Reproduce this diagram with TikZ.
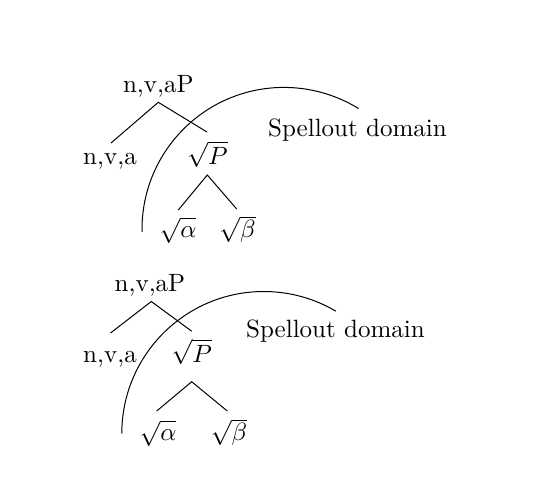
\documentclass[tikz,border=0pt]{standalone}
\usepackage{amsmath,amssymb}
\usepackage{tikz}

\begin{document}
\begin{tikzpicture}[
    x=0.4pt, y=-0.4pt,
    cat/.style={anchor=base, inner sep=0pt},
    branch/.style={line width=0.4pt},
    spellarc/.style={line width=0.4pt}
]
\useasboundingbox (0,0) rectangle (540,496);

% upper tree
\node[cat] (upP) at (158.3,92.3) {n,v,aP};
\node[cat] (upHead) at (110,164.3) {n,v,a};
\node[cat] (upRoot) at (207.5,164.3) {$\sqrt{P}$};
\node[cat] (upAlpha) at (178,237) {$\sqrt{\alpha}$};
\node[cat] (upBeta) at (237.5,237) {$\sqrt{\beta}$};
\node[cat] (upLabel) at (357.5,136) {Spellout domain};

\coordinate (upFork) at (158.3,102.3);
\coordinate (upL) at (111,143);
\coordinate (upR) at (207,132);
\coordinate (upRootFork) at (207.3,175);
\coordinate (upRootL) at (178.3,210);
\coordinate (upRootR) at (236.7,209);

\draw[branch] (upL) -- (upFork) -- (upR);
\draw[branch] (upRootL) -- (upRootFork) -- (upRootR);

\coordinate (upC) at (284,229.4);
\draw[spellarc] ([shift={(181:56.8pt)}]upC) arc[start angle=181, end angle=58.3, radius=56.8pt];

% lower tree
\node[cat] (loP) at (150,291.3) {n,v,aP};
\node[cat] (loHead) at (110,362) {n,v,a};
\node[cat] (loRoot) at (191.7,362) {$\sqrt{P}$};
\node[cat] (loAlpha) at (158,440) {$\sqrt{\alpha}$};
\node[cat] (loBeta) at (229,440) {$\sqrt{\beta}$};
\node[cat] (loLabel) at (335.5,337.7) {Spellout domain};

\coordinate (loFork) at (151.3,301.5);
\coordinate (loL) at (110.5,333);
\coordinate (loR) at (191.7,331.2);
\coordinate (loRootFork) at (191.7,381.7);
\coordinate (loRootL) at (156.7,411);
\coordinate (loRootR) at (227.3,411);

\draw[branch] (loL) -- (loFork) -- (loR);
\draw[branch] (loRootL) -- (loRootFork) -- (loRootR);

\coordinate (loC) at (263.8,433.5);
\draw[spellarc] ([shift={(180:56.8pt)}]loC) arc[start angle=180, end angle=59.5, radius=56.8pt];

\end{tikzpicture}
\end{document}
